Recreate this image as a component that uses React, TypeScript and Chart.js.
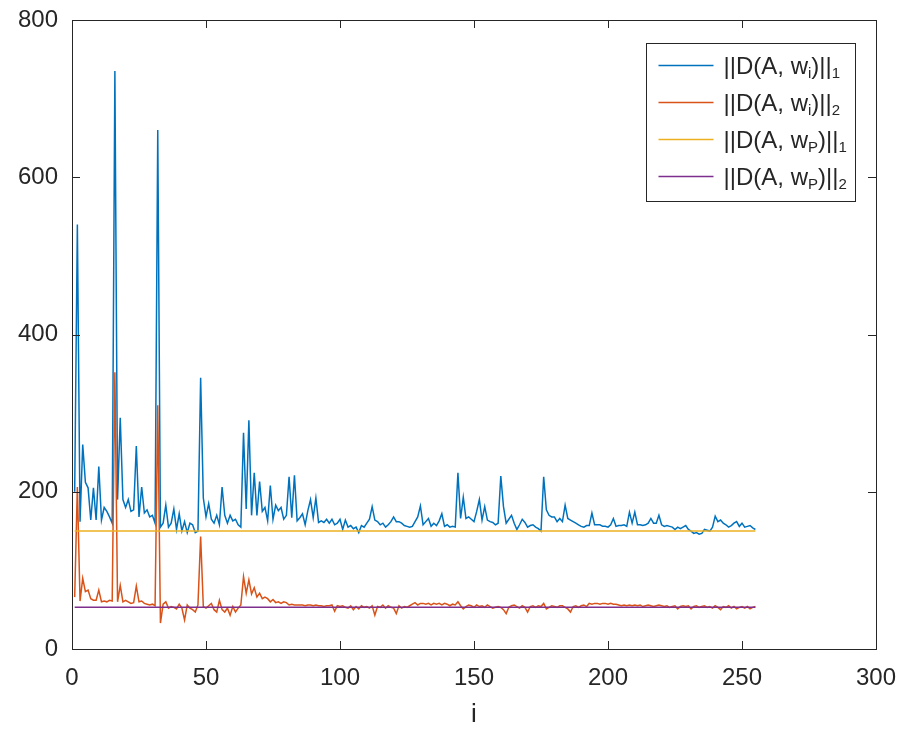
import React, { useEffect, useRef } from 'react';
import { Chart, registerables } from 'chart.js';

Chart.register(...registerables);

// ||D(A, w_i)||_1 for i = 1..255
const normL1: number[] = [
  200, 540, 162, 260, 212, 205, 164, 205, 164, 232,
  164, 180, 175, 168, 160, 735, 190, 294, 190, 180,
  190, 175, 177, 258, 168, 206, 173, 177, 168, 170,
  160, 660, 155, 160, 183, 155, 160, 178, 152, 172,
  150, 162, 148, 160, 158, 148, 150, 345, 192, 168,
  185, 165, 160, 170, 158, 206, 170, 160, 170, 163,
  165, 158, 155, 275, 178, 291, 170, 224, 170, 213,
  175, 180, 163, 208, 165, 183, 176, 180, 165, 170,
  219, 167, 221, 163, 167, 172, 158, 176, 190, 167,
  192, 161, 163, 161, 165, 160, 165, 158, 160, 165,
  152, 164, 155, 157, 153, 155, 148, 157, 155, 160,
  165, 181, 164, 162, 158, 160, 155, 158, 162, 168,
  162, 162, 160, 157, 156, 155, 156, 162, 168, 182,
  158, 162, 166, 156, 160, 157, 163, 172, 156, 158,
  155, 156, 155, 224, 166, 193, 166, 168, 165, 162,
  175, 190, 164, 181, 164, 162, 161, 158, 160, 220,
  181, 160, 165, 170, 160, 152, 158, 165, 161, 155,
  157, 158, 155, 153, 150, 219, 177, 170, 168, 168,
  162, 166, 162, 183, 166, 164, 162, 160, 158, 156,
  155, 157, 157, 173, 158, 158, 158, 156, 156, 155,
  158, 166, 156, 157, 157, 158, 156, 174, 160, 174,
  158, 158, 157, 158, 160, 166, 160, 160, 170, 158,
  156, 157, 156, 155, 152, 155, 153, 155, 157, 152,
  150, 147, 148, 146, 147, 152, 151, 150, 155, 169,
  162, 164, 160, 158, 155, 157, 160, 162, 156, 160,
  155, 156, 157, 154, 152,
];

// ||D(A, w_i)||_2 for i = 1..255
const normL2: number[] = [
  66, 206, 61, 90, 73, 75, 64, 62, 62, 75,
  60, 61, 60, 62, 61, 352, 60, 81, 60, 62,
  60, 58, 59, 80, 60, 61, 58, 57, 56, 57,
  55, 310, 33, 57, 60, 52, 54, 53, 51, 57,
  52, 37, 56, 52, 50, 47, 56, 143, 54, 52,
  55, 58, 50, 47, 62, 50, 47, 52, 43, 54,
  47, 52, 56, 92, 71, 88, 70, 78, 66, 71,
  64, 66, 64, 60, 63, 59, 60, 58, 60, 59,
  56, 57, 56, 56, 56, 56, 55, 56, 56, 55,
  56, 55, 55, 54, 55, 55, 56, 48, 55, 54,
  55, 53, 52, 55, 50, 54, 51, 55, 53, 54,
  52, 55, 43, 54, 53, 56, 52, 55, 53, 52,
  45, 55, 52, 54, 53, 55, 57, 59, 56, 58,
  58, 57, 58, 56, 58, 57, 58, 56, 58, 57,
  55, 57, 56, 60, 55, 51, 54, 56, 55, 53,
  56, 54, 55, 53, 56, 54, 52, 53, 54, 53,
  50, 45, 53, 55, 56, 54, 52, 55, 53, 47,
  54, 55, 53, 55, 54, 58, 51, 53, 55, 54,
  53, 55, 55, 53, 51, 47, 54, 55, 53, 55,
  56, 54, 58, 57, 58, 58, 57, 58, 58, 57,
  58, 57, 57, 56, 55, 56, 55, 56, 55, 56,
  55, 56, 54, 55, 56, 55, 54, 55, 56, 55,
  54, 55, 53, 54, 55, 51, 54, 55, 54, 55,
  51, 54, 55, 53, 54, 55, 53, 54, 52, 55,
  53, 50, 54, 53, 55, 52, 54, 51, 53, 54,
  52, 54, 51, 53, 54,
];

// ||D(A, w_P)||_1 and ||D(A, w_P)||_2 (constant levels)
const normP1 = 150;
const normP2 = 53;
const firstIndex = 1;
const lastIndex = 255;

const xTicks = [0, 50, 100, 150, 200, 250, 300];
const yTicks = [0, 200, 400, 600, 800];

const seriesColors = ['#0072BD', '#D95319', '#EDB120', '#7E2F8E'];
const legendSubs: [string, string][] = [
  ['i', '1'],
  ['i', '2'],
  ['P', '1'],
  ['P', '2'],
];

const FONT = '"Liberation Sans", Arial, Helvetica, sans-serif';
const AXIS_COLOR = '#262626';

const boxAndTicksPlugin = {
  id: 'matlabBox',
  afterDatasetsDraw(chart: any) {
    const { ctx, chartArea, scales } = chart;
    const { left, right, top, bottom } = chartArea;
    const tl = 8;
    ctx.save();
    ctx.strokeStyle = AXIS_COLOR;
    ctx.lineWidth = 1;
    ctx.beginPath();
    xTicks.forEach((v) => {
      const px = Math.round(scales.x.getPixelForValue(v)) + 0.5;
      ctx.moveTo(px, bottom);
      ctx.lineTo(px, bottom - tl);
      ctx.moveTo(px, top);
      ctx.lineTo(px, top + tl);
    });
    yTicks.forEach((v) => {
      const py = Math.round(scales.y.getPixelForValue(v)) + 0.5;
      ctx.moveTo(left, py);
      ctx.lineTo(left + tl, py);
      ctx.moveTo(right, py);
      ctx.lineTo(right - tl, py);
    });
    ctx.stroke();
    ctx.strokeRect(Math.round(left) + 0.5, Math.round(top) + 0.5, Math.round(right - left), Math.round(bottom - top));
    ctx.restore();
  },
};

const legendPlugin = {
  id: 'matlabLegend',
  afterDraw(chart: any) {
    const { ctx, chartArea } = chart;
    const boxW = 209;
    const boxH = 158;
    const bx = Math.round(chartArea.right - 230) + 0.5;
    const by = Math.round(chartArea.top + 23) + 0.5;
    ctx.save();
    ctx.fillStyle = '#ffffff';
    ctx.fillRect(bx, by, boxW, boxH);
    ctx.strokeStyle = AXIS_COLOR;
    ctx.lineWidth = 1;
    ctx.strokeRect(bx, by, boxW, boxH);
    const mainFont = `24px ${FONT}`;
    const subFont = `15px ${FONT}`;
    legendSubs.forEach(([s1, s2], k) => {
      const cy = by + 22 + k * 37;
      ctx.strokeStyle = seriesColors[k];
      ctx.lineWidth = 1.5;
      ctx.beginPath();
      ctx.moveTo(bx + 12, cy);
      ctx.lineTo(bx + 67, cy);
      ctx.stroke();
      ctx.fillStyle = AXIS_COLOR;
      ctx.textBaseline = 'alphabetic';
      ctx.textAlign = 'left';
      const base = cy + 8.5;
      let x = bx + 77;
      ctx.font = mainFont;
      ctx.fillText('||D(A, w', x, base);
      x += ctx.measureText('||D(A, w').width;
      ctx.font = subFont;
      ctx.fillText(s1, x, base + 4);
      x += ctx.measureText(s1).width;
      ctx.font = mainFont;
      ctx.fillText(')||', x, base);
      x += ctx.measureText(')||').width;
      ctx.font = subFont;
      ctx.fillText(s2, x, base + 4);
    });
    ctx.restore();
  },
};

export default function App() {
  const canvasRef = useRef<HTMLCanvasElement | null>(null);

  useEffect(() => {
    if (!canvasRef.current) return;
    const toPoints = (arr: number[]) => arr.map((v, k) => ({ x: firstIndex + k, y: v }));
    const flat = (v: number) => [
      { x: firstIndex, y: v },
      { x: lastIndex, y: v },
    ];
    const chart = new Chart(canvasRef.current, {
      type: 'line',
      data: {
        datasets: [
          { label: '||D(A, wi)||1', data: toPoints(normL1), borderColor: seriesColors[0], order: 3 },
          { label: '||D(A, wi)||2', data: toPoints(normL2), borderColor: seriesColors[1], order: 2 },
          { label: '||D(A, wP)||1', data: flat(normP1), borderColor: seriesColors[2], order: 1 },
          { label: '||D(A, wP)||2', data: flat(normP2), borderColor: seriesColors[3], order: 0 },
        ].map((d) => ({
          ...d,
          borderWidth: 1.5,
          pointRadius: 0,
          pointHoverRadius: 0,
          tension: 0,
          fill: false,
        })),
      },
      options: {
        animation: false,
        responsive: false,
        events: [],
        layout: { padding: { top: 20, right: 26, left: 0, bottom: 0 } },
        plugins: {
          legend: { display: false },
          tooltip: { enabled: false },
          title: { display: false },
        },
        scales: {
          x: {
            type: 'linear',
            min: 0,
            max: 300,
            afterFit: (s: any) => {
              s.height = 81;
              s.paddingLeft = 0;
              s.paddingRight = 0;
            },
            afterBuildTicks: (s: any) => {
              s.ticks = xTicks.map((v) => ({ value: v }));
            },
            grid: { display: false, drawTicks: false },
            border: { display: false },
            ticks: {
              padding: 15,
              color: AXIS_COLOR,
              font: { family: FONT, size: 24 },
              maxRotation: 0,
            },
            title: {
              display: true,
              text: 'i',
              color: AXIS_COLOR,
              font: { family: FONT, size: 26 },
              padding: { top: 0, bottom: 0 },
            },
          },
          y: {
            type: 'linear',
            min: 0,
            max: 800,
            afterFit: (s: any) => {
              s.width = 72;
              s.paddingTop = 0;
              s.paddingBottom = 0;
            },
            afterBuildTicks: (s: any) => {
              s.ticks = yTicks.map((v) => ({ value: v }));
            },
            grid: { display: false, drawTicks: false },
            border: { display: false },
            ticks: {
              padding: 14,
              color: AXIS_COLOR,
              font: { family: FONT, size: 24 },
            },
          },
        },
      },
      plugins: [boxAndTicksPlugin, legendPlugin],
    } as any);
    return () => chart.destroy();
  }, []);

  return (
    <div style={{ position: 'absolute', left: 0, top: 0, width: 902, height: 730, background: '#ffffff' }}>
      <canvas ref={canvasRef} width={902} height={730} style={{ display: 'block', width: 902, height: 730 }} />
    </div>
  );
}
